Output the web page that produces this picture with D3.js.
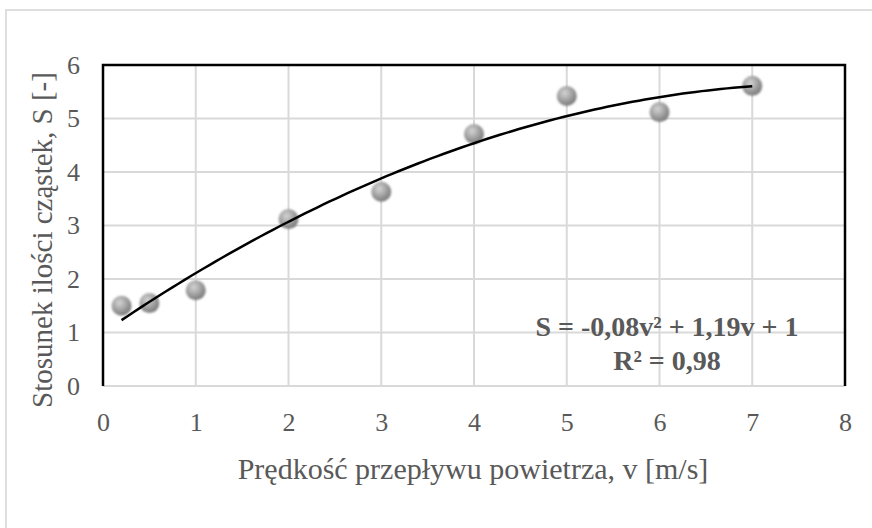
<!DOCTYPE html>
<html>
<head>
<meta charset="utf-8">
<script src="https://cdn.jsdelivr.net/npm/d3@7"></script>
<style>
  body { margin: 0; background: #fff; }
  svg { display: block; }
  text { font-family: "Liberation Serif", "Times New Roman", serif; fill: #595959; }
</style>
</head>
<body>
<div id="chart"></div>
<script>
const speeds = [0.2, 0.5, 1, 2, 3, 4, 5, 6, 7];
const ratios = [1.5, 1.55, 1.79, 3.12, 3.63, 4.71, 5.42, 5.12, 5.61];
const xTicks = [0, 1, 2, 3, 4, 5, 6, 7, 8];
const yTicks = [0, 1, 2, 3, 4, 5, 6];
const eqLines = ["S = -0,08v\u00b2 + 1,19v + 1", "R\u00b2 = 0,98"];

const width = 872;
const height = 528;
const margin = { top: 65, bottom: 142, left: 103, right: 27 };
const w = width - margin.left - margin.right;
const h = height - margin.top - margin.bottom;

const svg = d3.select("#chart").append("svg")
    .attr("width", width)
    .attr("height", height);

// outer chart frame (only top/left visible in the crop)
svg.append("rect")
    .attr("x", 6).attr("y", 10)
    .attr("width", 900).attr("height", 600)
    .attr("fill", "none")
    .attr("stroke", "#dedede")
    .attr("stroke-width", 2);

const defs = svg.append("defs");
const grad = defs.append("radialGradient")
    .attr("id", "ball")
    .attr("cx", "40%").attr("cy", "35%").attr("r", "65%");
grad.append("stop").attr("offset", "0%").attr("stop-color", "#d4d4d4");
grad.append("stop").attr("offset", "55%").attr("stop-color", "#a3a3a3");
grad.append("stop").attr("offset", "100%").attr("stop-color", "#7a7a7a");
defs.append("filter").attr("id", "soft")
    .append("feGaussianBlur").attr("stdDeviation", 0.8);

const g = svg.append("g")
    .attr("transform", "translate(" + margin.left + "," + margin.top + ")");

const x = d3.scaleLinear().domain([0, 8]).range([0, w]);
const y = d3.scaleLinear().domain([0, 6]).range([h, 0]);

// grid
g.selectAll(".gx").data(xTicks.slice(1, -1)).enter().append("line")
    .attr("x1", d => x(d)).attr("x2", d => x(d))
    .attr("y1", 0).attr("y2", h)
    .attr("stroke", "#d9d9d9").attr("stroke-width", 2);
g.selectAll(".gy").data(yTicks).enter().append("line")
    .attr("x1", 0).attr("x2", w)
    .attr("y1", d => y(d)).attr("y2", d => y(d))
    .attr("stroke", "#d9d9d9").attr("stroke-width", 2);

// plot frame: black top/left/right
g.append("path")
    .attr("d", "M0," + h + "V0H" + w + "V" + h)
    .attr("fill", "none")
    .attr("stroke", "#000")
    .attr("stroke-width", 2.5);

// axes (labels only)
const xAxis = g.append("g")
    .attr("transform", "translate(0," + h + ")")
    .call(d3.axisBottom(x).tickValues(xTicks).tickFormat(d3.format("d")).tickSize(0).tickPadding(27));
xAxis.select(".domain").remove();
xAxis.selectAll("text")
    .style("font-size", "26px")
    .attr("fill", "#595959");

const yAxis = g.append("g")
    .call(d3.axisLeft(y).tickValues(yTicks).tickFormat(d3.format("d")).tickSize(0).tickPadding(23));
yAxis.select(".domain").remove();
yAxis.selectAll("text")
    .style("font-size", "26px")
    .attr("fill", "#595959");

// quadratic least squares trendline, like the spreadsheet did
function polyFit(xs, ys) {
  const s = [0, 0, 0, 0, 0], t = [0, 0, 0];
  xs.forEach((xi, i) => {
    for (let k = 0; k < 5; k++) s[k] += Math.pow(xi, k);
    for (let k = 0; k < 3; k++) t[k] += Math.pow(xi, k) * ys[i];
  });
  const m = [[s[0], s[1], s[2], t[0]], [s[1], s[2], s[3], t[1]], [s[2], s[3], s[4], t[2]]];
  for (let i = 0; i < 3; i++) {
    for (let j = i + 1; j < 3; j++) {
      const f = m[j][i] / m[i][i];
      for (let k = i; k < 4; k++) m[j][k] -= f * m[i][k];
    }
  }
  const c = [0, 0, 0];
  for (let i = 2; i >= 0; i--) {
    let v = m[i][3];
    for (let k = i + 1; k < 3; k++) v -= m[i][k] * c[k];
    c[i] = v / m[i][i];
  }
  return c; // c0 + c1 v + c2 v^2
}
const coef = polyFit(speeds, ratios);
const vMin = d3.min(speeds), vMax = d3.max(speeds);
const curve = d3.range(0, 101).map(i => {
  const v = vMin + (vMax - vMin) * i / 100;
  return [v, coef[0] + coef[1] * v + coef[2] * v * v];
});

// markers
g.selectAll(".pt").data(speeds).enter().append("circle")
    .attr("cx", (d) => x(d))
    .attr("cy", (d, i) => y(ratios[i]))
    .attr("r", 10)
    .attr("fill", "url(#ball)")
    .attr("filter", "url(#soft)");

g.append("path")
    .datum(curve)
    .attr("fill", "none")
    .attr("stroke", "#000")
    .attr("stroke-width", 2.5)
    .attr("d", d3.line().x(d => x(d[0])).y(d => y(d[1])));

// equation box
g.selectAll(".eq").data(eqLines).enter().append("text")
    .attr("x", 667 - margin.left)
    .attr("y", (d, i) => 336 - margin.top + i * 34)
    .attr("text-anchor", "middle")
    .style("font-size", "28px")
    .style("font-weight", "bold")
    .text(d => d);

// axis titles
svg.append("text")
    .attr("x", 473).attr("y", 479)
    .attr("text-anchor", "middle")
    .style("font-size", "30px")
    .text("Prędkość przepływu powietrza, v [m/s]");

svg.append("text")
    .attr("transform", "translate(52,240) rotate(-90)")
    .attr("text-anchor", "middle")
    .style("font-size", "29px")
    .text("Stosunek ilości cząstek, S [-]");
</script>
</body>
</html>
